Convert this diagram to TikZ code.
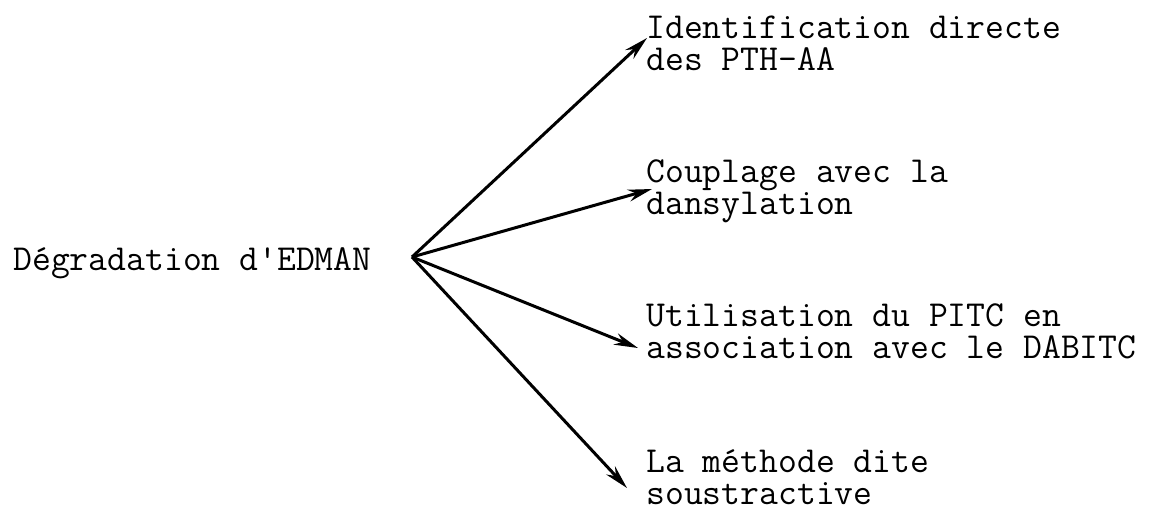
\documentclass[tikz,border=0pt]{standalone}
\usetikzlibrary{positioning,arrows.meta}
\tikzset{
  item/.style={anchor=base west, align=left, inner sep=0pt,
    font=\fontsize{18.3}{16}\ttfamily},
  branch/.style={line width=1.5pt, -{Stealth[length=12pt,width=6pt]}}
}

\begin{document}
\begin{tikzpicture}[x=0.5pt,y=-0.5pt]
  \useasboundingbox (0,0) rectangle (1154,511);
  \node[item] (edman) at (13,270) {Dégradation d\textquotesingle EDMAN};
  \coordinate (hub) at (412,257);
  \node[item] (pth) at (646,70) {Identification directe\\des PTH-AA};
  \node[item] (dns) at (646,214) {Couplage avec la\\dansylation};
  \node[item] (pitc) at (646,358) {Utilisation du PITC en\\association avec le DABITC};
  \node[item] (sous) at (646,504) {La méthode dite\\soustractive};
  \draw[branch] (hub) -- ([shift={(1,-32)}]pth.base west);
  \draw[branch] (hub) -- ([shift={(6,-25)}]dns.base west);
  \draw[branch] (hub) -- ([shift={(-8,-10)}]pitc.base west);
  \draw[branch] (hub) -- ([shift={(-19,-16)}]sous.base west);
\end{tikzpicture}
\end{document}
